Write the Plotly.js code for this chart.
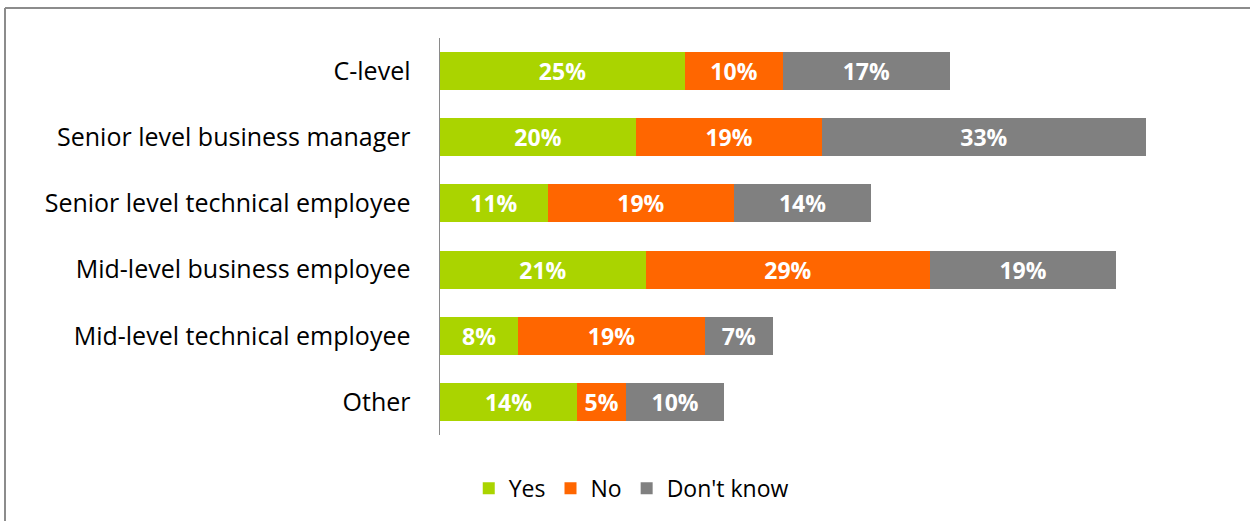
<!DOCTYPE html>
<html>
<head>
<meta charset="utf-8">
<script src="https://cdn.plot.ly/plotly-3.0.1.min.js"></script>
<style>
  html, body { margin: 0; padding: 0; background: #ffffff; }
  #chart { width: 1250px; height: 521px; }
</style>
</head>
<body>
<div id="chart"></div>
<script>
// Respondent roles (top to bottom)
const categories = [
  "C-level",
  "Senior level business manager",
  "Senior level technical employee",
  "Mid-level business employee",
  "Mid-level technical employee",
  "Other"
];

// Share of answers per role, in percent
const yesValues      = [25, 20, 11, 21, 8, 14];
const noValues       = [10, 19, 19, 29, 19, 5];
const dontKnowValues = [17, 33, 14, 19, 7, 10];

const seriesNames  = ["Yes", "No", "Don't know"];
const seriesColors = ["#AAD400", "#FF6600", "#808080"];

const FONT = "'Open Sans', Lato, sans-serif";

function barTrace(name, values, color) {
  return {
    type: "bar",
    orientation: "h",
    name: name,
    y: categories,
    x: values,
    marker: { color: color, line: { width: 0 } },
    width: 0.575,
    texttemplate: "%{x}%",
    textposition: "inside",
    insidetextanchor: "middle",
    constraintext: "none",
    textfont: { family: FONT, size: 23, color: "#ffffff", weight: "bold" },
    hoverinfo: "skip"
  };
}

const traces = [
  barTrace(seriesNames[0], yesValues, seriesColors[0]),
  barTrace(seriesNames[1], noValues, seriesColors[1]),
  barTrace(seriesNames[2], dontKnowValues, seriesColors[2])
];

const layout = {
  width: 1250,
  height: 521,
  margin: { l: 440, r: 26, t: 38, b: 86, pad: 0 },
  barmode: "stack",
  paper_bgcolor: "#ffffff",
  plot_bgcolor: "#ffffff",
  font: { family: FONT, size: 25, color: "#000000" },
  xaxis: {
    range: [0, 80],
    showgrid: false,
    zeroline: false,
    showline: false,
    showticklabels: false,
    ticks: ""
  },
  yaxis: {
    type: "category",
    autorange: "reversed",
    showgrid: false,
    zeroline: false,
    showline: true,
    linecolor: "#8a8a8a",
    linewidth: 1.5,
    ticks: "",
    ticklabelstandoff: 23,
    tickfont: { family: FONT, size: 25, color: "#000000" }
  },
  showlegend: true,
  legend: {
    orientation: "h",
    xref: "container",
    yref: "container",
    x: 0.505,
    xanchor: "center",
    y: 0.063,
    yanchor: "middle",
    font: { family: FONT, size: 23, color: "#000000" },
    itemwidth: 30,
    traceorder: "normal",
    bgcolor: "rgba(0,0,0,0)"
  },
  shapes: [
    // outer frame (left and top edges visible)
    {
      type: "line", xref: "paper", yref: "paper",
      x0: -435 / 784, x1: -435 / 784, y0: 1 + 30 / 397, y1: -0.3,
      line: { color: "#8c8c8c", width: 2 }
    },
    {
      type: "line", xref: "paper", yref: "paper",
      x0: -435 / 784, x1: 1.1, y0: 1 + 30 / 397, y1: 1 + 30 / 397,
      line: { color: "#8c8c8c", width: 2 }
    }
  ]
};

Plotly.newPlot("chart", traces, layout, { staticPlot: true, displayModeBar: false });
</script>
</body>
</html>
